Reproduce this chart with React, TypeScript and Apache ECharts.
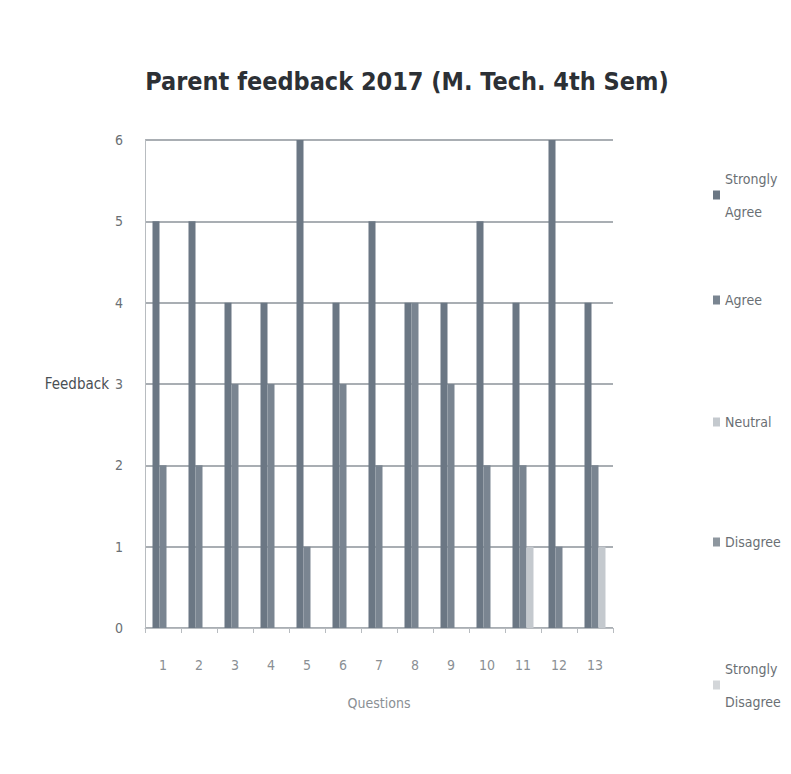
import React, { useEffect, useRef } from "react";
import * as echarts from "echarts";

const questions = ["1", "2", "3", "4", "5", "6", "7", "8", "9", "10", "11", "12", "13"];
const seriesNames = ["Strongly\nAgree", "Agree", "Neutral", "Disagree", "Strongly\nDisagree"];
const stronglyAgree = [5, 5, 4, 4, 6, 4, 5, 4, 4, 5, 4, 6, 4];
const agree = [2, 2, 3, 3, 1, 3, 2, 4, 3, 2, 2, 1, 2];
const neutral = [0, 0, 0, 0, 0, 0, 0, 0, 0, 0, 1, 0, 1];
const disagree = [0, 0, 0, 0, 0, 0, 0, 0, 0, 0, 0, 0, 0];
const stronglyDisagree = [0, 0, 0, 0, 0, 0, 0, 0, 0, 0, 0, 0, 0];
const colors = ["#6b7784", "#7a8591", "#c4c9ce", "#8e979f", "#d3d6d9"];
const legendTops = [157, 282, 404, 524, 647];

export default function App() {
  const ref = useRef<HTMLDivElement>(null);
  useEffect(() => {
    if (!ref.current) return;
    const chart = echarts.init(ref.current, undefined, { renderer: "svg" });
    const font = "'DejaVu Sans Condensed', sans-serif";
    const data = [stronglyAgree, agree, neutral, disagree, stronglyDisagree];
    chart.setOption({
      animation: false,
      backgroundColor: "#ffffff",
      title: {
        text: "Parent feedback 2017 (M. Tech. 4th Sem)",
        left: 402,
        textAlign: "center",
        top: 64,
        textStyle: { fontFamily: font, fontSize: 25, fontWeight: "bold", color: "#2c3035" },
      },
      legend: seriesNames.map((name, i) => ({
        orient: "vertical",
        left: 708,
        top: legendTops[i],
        itemWidth: 7,
        itemHeight: 9,
        icon: "rect",
        data: [name],
        textStyle: {
          fontFamily: font,
          fontSize: 14,
          color: "#6a6f74",
          lineHeight: name.includes("\n") ? 33 : 26,
        },
      })),
      grid: { left: 145, right: 178, top: 140, bottom: 146 },
      xAxis: {
        type: "category",
        data: questions,
        name: "Questions",
        nameLocation: "middle",
        nameGap: 68,
        nameTextStyle: { fontFamily: font, fontSize: 14, color: "#8a8f94" },
        axisLine: { lineStyle: { color: "#b8bcc0" } },
        axisTick: { show: true, lineStyle: { color: "#b8bcc0" } },
        axisLabel: { fontFamily: font, fontSize: 14, color: "#8a8f94", margin: 30 },
      },
      yAxis: {
        type: "value",
        min: 0,
        max: 6,
        interval: 1,
        name: "Feedback",
        nameLocation: "middle",
        nameRotate: 0,
        nameGap: 36,
        nameTextStyle: { fontFamily: font, fontSize: 15, color: "#4a4f54", padding: [16, 0, 0, 0] },
        axisLine: { show: true, lineStyle: { color: "#b8bcc0" } },
        axisLabel: { fontFamily: font, fontSize: 14, color: "#6a6f74", margin: 22 },
        splitLine: { lineStyle: { color: "#a9aeb3", width: 2 } },
      },
      series: seriesNames.map((name, i) => ({
        name,
        type: "bar",
        data: data[i],
        stack: i >= 2 ? "low" : undefined,
        barWidth: 7,
        barGap: "0%",
        itemStyle: { color: colors[i] },
      })),
    });
    return () => chart.dispose();
  }, []);
  return (
    <div
      ref={ref}
      style={{ position: "fixed", left: 0, top: 0, width: 791, height: 774, background: "#fff" }}
    />
  );
}
